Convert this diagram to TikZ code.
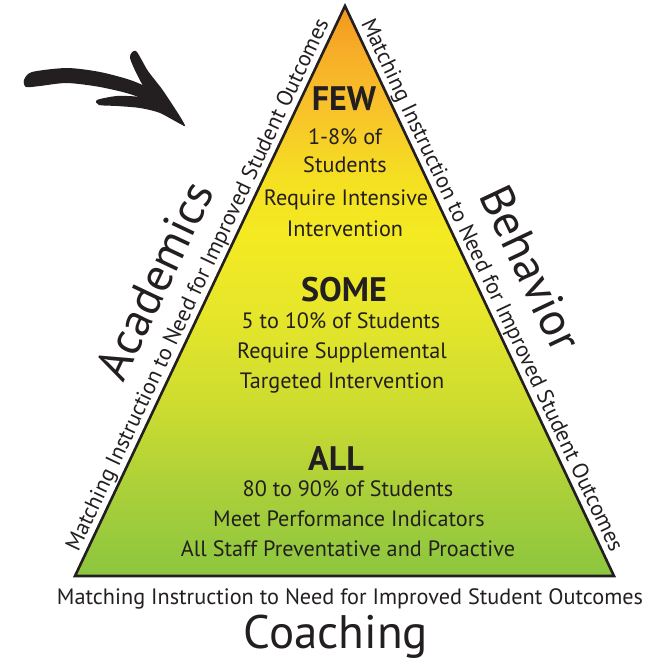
\documentclass[tikz,border=0pt]{standalone}
\usepackage{fontspec}
\setmainfont{PT Sans}
\usetikzlibrary{calc}
\definecolor{ink}{HTML}{231F20}
\definecolor{g0}{HTML}{8CC63F}
\definecolor{g1}{HTML}{A8CF3A}
\definecolor{g2}{HTML}{CDDC30}
\definecolor{g3}{HTML}{E6E62A}
\definecolor{g4}{HTML}{F4EA22}
\definecolor{g5}{HTML}{F5DF22}
\definecolor{g6}{HTML}{F8C22A}
\definecolor{g7}{HTML}{F7AE28}
\definecolor{g8}{HTML}{F2961E}
\pgfdeclareverticalshading{pyr}{100bp}{color(0bp)=(g0); color(25bp)=(g0); color(32bp)=(g1); color(40bp)=(g2); color(48bp)=(g3); color(55bp)=(g4); color(60bp)=(g5); color(66bp)=(g6); color(71bp)=(g7); color(75bp)=(g8); color(100bp)=(g8)}
\newcommand\edgeline{\resizebox{586pt}{!}{Matching Instruction to Need for Improved Student Outcomes}}
\begin{document}
\begin{tikzpicture}[x=1pt,y=-1pt,
  every node/.style={text=ink, inner sep=0pt},
  edgetxt/.style={font=\fontsize{20}{24}\selectfont, anchor=base},
  body/.style={font=\fontsize{22.2}{26}\selectfont, anchor=base},
  head/.style={font=\fontsize{34}{38}\selectfont\bfseries, anchor=base},
  big/.style={font=\fontsize{47}{52}\selectfont},
  brush/.style={fill=ink, draw=none}]
\useasboundingbox (0,0) rectangle (658,662);
\coordinate (apex) at (345,6);
\coordinate (bl) at (75,576);
\coordinate (br) at (614,576);
\draw[shading=pyr, draw=ink, line width=2.6pt, line join=miter] (apex) -- (br) -- (bl) -- cycle;
% arrow
\fill[brush] plot[smooth cycle, tension=0.45] coordinates {(24,80) (32,72) (67,68) (100,72) (133,81) (160,95) (185,126) (160,108) (133,95) (100,87) (67,83) (40,86) (26,87)};
\fill[brush] plot[smooth cycle, tension=0.45] coordinates {(130,58) (136,51) (148,71) (164,92) (185,126) (156,102) (142,84)};
\fill[brush] plot[smooth cycle, tension=0.45] coordinates {(97,100) (117,96) (140,97) (160,103) (185,126) (160,113) (140,108) (117,106) (99,105)};
% edge texts
\node[edgetxt, rotate=64.65] (lefttxt) at (203.7,288.0) {\edgeline};
\node[edgetxt, rotate=-64.74] (righttxt) at (485.8,288.0) {\edgeline};
\node[edgetxt] (bottomtxt) at (350,604) {\edgeline};
\node[big, rotate=64.65] (academics) at (154.3,280.2) {Academics};
\node[big, rotate=-64.74] (behavior) at (531,268) {Behavior};
\node[big, anchor=base] (coaching) at (336,648) {Coaching};
% inner texts
\node[head] (few) at (344,110) {FEW};
\node[body] (f1) at (345,144) {1-8\% of};
\node[body] (f2) at (345,172) {Students};
\node[body] (f3) at (346,205) {Require Intensive};
\node[body] (f4) at (345,236) {Intervention};
\node[head] (some) at (344,301) {SOME};
\node[body] (s1) at (341,328) {5 to 10\% of Students};
\node[body] (s2) at (342,358) {Require Supplemental};
\node[body] (s3) at (342,388) {Targeted Intervention};
\node[head] (all) at (336,470) {ALL};
\node[body] (a1) at (348,496) {80 to 90\% of Students};
\node[body] (a2) at (349,526) {Meet Performance Indicators};
\node[body] (a3) at (348,556) {All Staff Preventative and Proactive};
\end{tikzpicture}
\end{document}
